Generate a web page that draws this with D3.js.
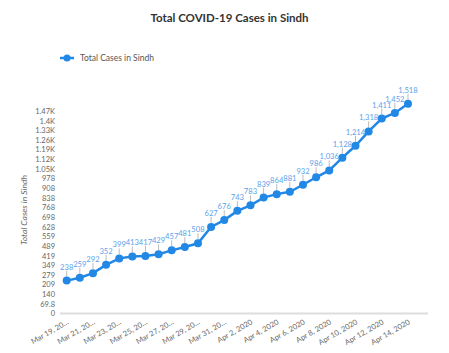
<!DOCTYPE html>
<html><head><meta charset="utf-8">
<script src="https://cdn.jsdelivr.net/npm/d3@7"></script>
<style>body{margin:0;background:#fff}svg{display:block}</style>
</head><body>
<svg id="c" width="449" height="353"></svg>
<script>
const dates = ["Mar 19, 2020","Mar 20, 2020","Mar 21, 2020","Mar 22, 2020","Mar 23, 2020","Mar 24, 2020","Mar 25, 2020","Mar 26, 2020","Mar 27, 2020","Mar 28, 2020","Mar 29, 2020","Mar 30, 2020","Mar 31, 2020","Apr 1, 2020","Apr 2, 2020","Apr 3, 2020","Apr 4, 2020","Apr 5, 2020","Apr 6, 2020","Apr 7, 2020","Apr 8, 2020","Apr 9, 2020","Apr 10, 2020","Apr 11, 2020","Apr 12, 2020","Apr 13, 2020","Apr 14, 2020"];
const cases = [238,259,292,352,399,413,417,429,457,481,508,627,676,743,783,839,864,881,932,986,1036,1128,1214,1318,1411,1452,1518];
const yTicks = [0,69.8,139.6,209.4,279.2,349,418.8,488.6,558.4,628.2,698,767.8,837.6,907.4,977.2,1047,1116.8,1186.6,1256.4,1326.2,1396,1465.8];
const yTickLabels = ["0","69.8","140","209","279","349","419","489","559","628","698","768","838","908","978","1.05K","1.12K","1.19K","1.26K","1.33K","1.4K","1.47K"];
const seriesName = "Total Cases in Sindh";
const title = "Total COVID-19 Cases in Sindh";

const svg = d3.select("#c");
const font = "Lato, 'Open Sans', sans-serif";
const blue = "#2188e6";

const y0 = 313.5, yTop = 111;
const y = d3.scaleLinear().domain([0, 1465.8]).range([y0, yTop]);
const x = d3.scalePoint().domain(dates).range([66.7, 408]);

svg.append("text").attr("x", 229.5).attr("y", 22).attr("text-anchor","middle")
  .attr("font-family", font).attr("font-weight","bold").attr("font-size", 11.5).attr("fill","#333").text(title);

const lg = svg.append("g");
lg.append("line").attr("x1",60).attr("x2",74).attr("y1",58).attr("y2",58).attr("stroke",blue).attr("stroke-width",2.5);
lg.append("circle").attr("cx",67).attr("cy",58).attr("r",3.5).attr("fill",blue);
lg.append("text").attr("x",80).attr("y",61).attr("font-family",font).attr("font-size",8.5).attr("fill","#555").text(seriesName);

const ya = svg.append("g").attr("transform","translate(58,0)")
  .call(d3.axisLeft(y).tickValues(yTicks).tickFormat((d,i)=>yTickLabels[i]).tickSize(0).tickPadding(3));
ya.select(".domain").remove();
ya.selectAll("text").attr("font-family",font).attr("font-size",7.5).attr("fill","#666");

svg.append("text").attr("transform","translate(27,210) rotate(-90)").attr("text-anchor","middle")
  .attr("font-family",font).attr("font-style","italic").attr("font-size",8.5).attr("fill","#666").text("Total Cases in Sindh");

const xa = svg.append("g").attr("transform",`translate(0,${y0})`)
  .call(d3.axisBottom(x).tickValues(dates.filter((d,i)=>i%2===0)).tickSize(0).tickPadding(0));
xa.select(".domain").attr("stroke","#ddd").attr("stroke-width",2).attr("d","M60,0H428");
xa.selectAll("text").attr("font-family",font).attr("font-size",7.5).attr("fill","#666")
  .attr("text-anchor","end").attr("dy",0).attr("transform","translate(2,10) rotate(-30)")
  .text(d => d.startsWith("Mar") ? d.slice(0,10) + "…" : d);

svg.append("path").datum(cases).attr("fill","none").attr("stroke",blue).attr("stroke-width",2.5)
  .attr("d", d3.line().x((d,i)=>x(dates[i])).y(d=>y(d)));

svg.append("g").selectAll("line").data(cases).join("line")
  .attr("x1",(d,i)=>x(dates[i])).attr("x2",(d,i)=>x(dates[i]))
  .attr("y1",d=>y(d)-4).attr("y2",d=>y(d)-10).attr("stroke","#bbb").attr("stroke-width",1);

svg.append("g").selectAll("circle").data(cases).join("circle")
  .attr("cx",(d,i)=>x(dates[i])).attr("cy",d=>y(d)).attr("r",4).attr("fill",blue);

svg.append("g").selectAll("text").data(cases).join("text")
  .attr("x",(d,i)=>x(dates[i])).attr("y",d=>y(d)-11).attr("text-anchor","middle")
  .attr("font-family",font).attr("font-size",7.6).attr("fill","#5aa2ea")
  .text(d=>d3.format(",")(d));
</script>
</body></html>
